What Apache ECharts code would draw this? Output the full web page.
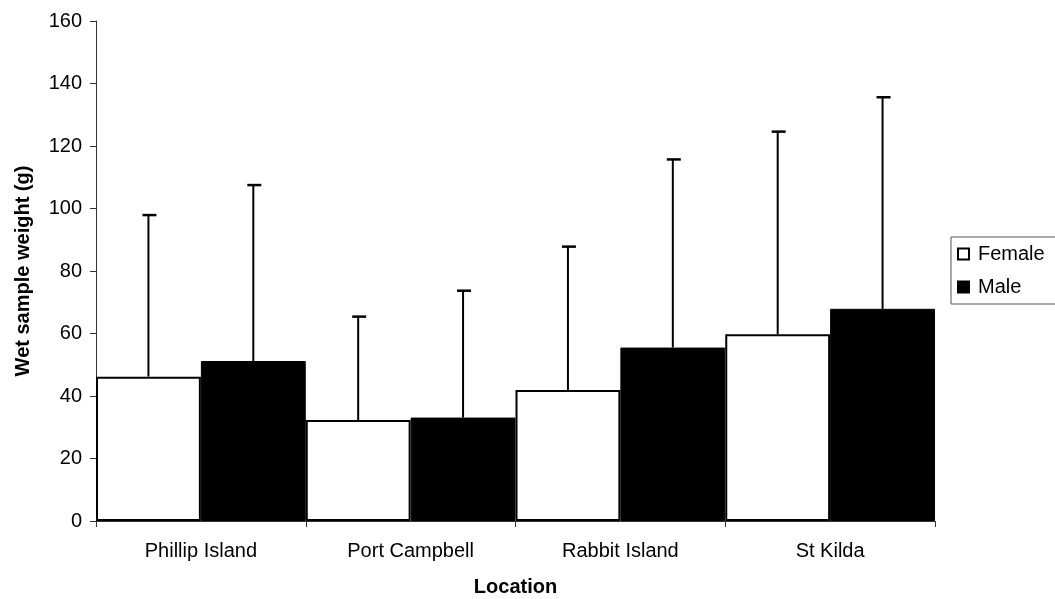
<!DOCTYPE html>
<html>
<head>
<meta charset="utf-8">
<script src="https://cdn.jsdelivr.net/npm/echarts@6/dist/echarts.min.js"></script>
<style>html,body{margin:0;padding:0;background:#fff;}#c{width:1055px;height:599px;}</style>
</head>
<body>
<div id="c"></div>
<script>
const categories = ['Phillip Island', 'Port Campbell', 'Rabbit Island', 'St Kilda'];
const femaleMean = [46.2, 32.3, 41.9, 59.8];
const femaleUpper = [97.9, 65.4, 87.8, 124.6];
const maleMean = [51.2, 33.1, 55.5, 67.9];
const maleUpper = [107.5, 73.7, 115.7, 135.6];
const yTicks = [0, 20, 40, 60, 80, 100, 120, 140, 160];

const FONT = '"Liberation Sans", Arial, sans-serif';
const chart = echarts.init(document.getElementById('c'), null, {renderer: 'canvas'});

function errRender(sign) {
  return function (params, api) {
    const i = api.value(0);
    const top = api.coord([i, api.value(2)]);
    const base = api.coord([i, api.value(1)]);
    const band = api.size([1, 0])[0];
    const x = top[0] + sign * band / 4;
    const half = 7;
    return {
      type: 'group',
      children: [
        {type: 'line', shape: {x1: x, y1: base[1], x2: x, y2: top[1]}, style: {stroke: '#000', lineWidth: 2}},
        {type: 'line', shape: {x1: x - half + 1, y1: top[1], x2: x + half + 1, y2: top[1]}, style: {stroke: '#000', lineWidth: 2.5}}
      ]
    };
  };
}

chart.setOption({
  animation: false,
  backgroundColor: '#fff',
  grid: {left: 96, right: 120, top: 21, bottom: 78, containLabel: false, outerBoundsMode: 'none'},
  legend: {
    orient: 'vertical',
    left: 951, top: 237,
    padding: [6, 40, 6, 6],
    borderColor: '#555', borderWidth: 1,
    itemWidth: 11, itemHeight: 11, itemGap: 11,
    icon: 'rect',
    textStyle: {fontFamily: FONT, fontSize: 20, color: '#000', lineHeight: 22, padding: [0, 0, 0, 4]},
    data: [
      {name: 'Female', itemStyle: {color: '#fff', borderColor: '#000', borderWidth: 2}},
      {name: 'Male', itemStyle: {color: '#000'}}
    ]
  },
  xAxis: {
    type: 'category',
    data: categories,
    name: 'Location',
    nameLocation: 'middle',
    nameGap: 56,
    nameTextStyle: {fontFamily: FONT, fontSize: 20, fontWeight: 'bold', color: '#000'},
    axisLine: {lineStyle: {color: '#333', width: 1}},
    axisTick: {show: true, length: 6, lineStyle: {color: '#333'}},
    axisLabel: {fontFamily: FONT, fontSize: 20, color: '#000', margin: 20},
    splitLine: {show: false}
  },
  yAxis: {
    type: 'value',
    min: yTicks[0], max: yTicks[yTicks.length - 1], interval: 20,
    name: 'Wet sample weight (g)',
    nameLocation: 'middle',
    nameGap: 63,
    nameTextStyle: {fontFamily: FONT, fontSize: 20, fontWeight: 'bold', color: '#000'},
    axisLine: {show: true, lineStyle: {color: '#333', width: 1}},
    axisTick: {show: true, length: 6, lineStyle: {color: '#333'}},
    axisLabel: {fontFamily: FONT, fontSize: 20, color: '#000', margin: 14},
    splitLine: {show: false}
  },
  series: [
    {
      name: 'Female', type: 'bar', data: femaleMean,
      barGap: '0%', barCategoryGap: '0%',
      itemStyle: {color: '#fff', borderColor: '#000', borderWidth: 2},
      z: 2
    },
    {
      name: 'Male', type: 'bar', data: maleMean,
      barGap: '0%', barCategoryGap: '0%',
      itemStyle: {color: '#000', borderColor: '#000', borderWidth: 1},
      z: 2
    },
    {
      type: 'custom', name: 'FemaleErr',
      renderItem: errRender(-1),
      data: categories.map((c, i) => [i, femaleMean[i], femaleUpper[i]]),
      encode: {x: 0, y: [1, 2]},
      z: 3, silent: true
    },
    {
      type: 'custom', name: 'MaleErr',
      renderItem: errRender(1),
      data: categories.map((c, i) => [i, maleMean[i], maleUpper[i]]),
      encode: {x: 0, y: [1, 2]},
      z: 3, silent: true
    }
  ]
});
</script>
</body>
</html>
